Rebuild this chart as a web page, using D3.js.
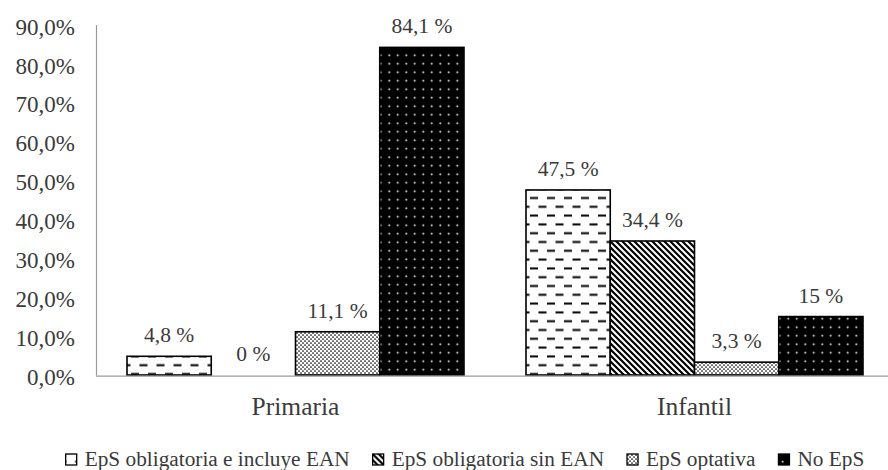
<!DOCTYPE html>
<html>
<head>
<meta charset="utf-8">
<script src="https://cdn.jsdelivr.net/npm/d3@7"></script>
<style>
  body { margin: 0; background: #fff; }
  svg { display: block; }
  text { font-family: "Liberation Serif", "DejaVu Serif", serif; fill: #3a3a3a; }
</style>
</head>
<body>
<svg id="chart" width="888" height="470"></svg>
<script>
// Data
const categories = ["Primaria", "Infantil"];
const seriesNames = [
  "EpS obligatoria e incluye EAN",
  "EpS obligatoria sin EAN",
  "EpS optativa",
  "No EpS"
];
const primariaValues = [4.8, 0, 11.1, 84.1];
const infantilValues = [47.5, 34.4, 3.3, 15];
const yTickValues = [0, 10, 20, 30, 40, 50, 60, 70, 80, 90];

const valuesByCategory = { "Primaria": primariaValues, "Infantil": infantilValues };
const rows = categories.map(c => ({
  category: c,
  bars: seriesNames.map((s, i) => ({ series: s, idx: i, value: valuesByCategory[c][i] }))
}));

const FONT = '"Liberation Serif", "DejaVu Serif", serif';
const svg = d3.select("#chart");
const W = 888, H = 470;
const plot = { left: 96, right: 894, top: 24.4, bottom: 375 };

// Spanish number format: comma as decimal separator
const es = d3.formatLocale({ decimal: ",", thousands: ".", grouping: [3], currency: ["", " €"] });
const tickFmt = v => es.format(".1f")(v) + "%";
const labelFmt = v => (Number.isInteger(v) ? String(v) : es.format(".1f")(v)) + " %";

// Scales
const x0 = d3.scaleBand().domain(categories).range([plot.left, plot.right]).paddingInner(0).paddingOuter(0);
const x1 = d3.scaleBand().domain(seriesNames).range([0, x0.bandwidth()]).paddingInner(0).paddingOuter(0.368);
const y = d3.scaleLinear().domain([0, 90]).range([plot.bottom, plot.top]);

// Fill patterns
const defs = svg.append("defs");

// dashed horizontal
const p0 = defs.append("pattern").attr("id", "pat0").attr("patternUnits", "userSpaceOnUse")
  .attr("width", 17).attr("height", 17.6);
p0.append("rect").attr("width", 17).attr("height", 17.6).attr("fill", "#fff");
p0.append("rect").attr("x", 1).attr("y", 3.4).attr("width", 8).attr("height", 2).attr("fill", "#000");
p0.append("rect").attr("x", 9.5).attr("y", 12.2).attr("width", 8).attr("height", 2).attr("fill", "#000");
p0.append("rect").attr("x", -7.5).attr("y", 12.2).attr("width", 8).attr("height", 2).attr("fill", "#000");

// wide downward diagonal
const p1 = defs.append("pattern").attr("id", "pat1").attr("patternUnits", "userSpaceOnUse")
  .attr("width", 6).attr("height", 6);
p1.append("rect").attr("width", 6).attr("height", 6).attr("fill", "#fff");
p1.append("path").attr("d", "M-1,-1 L7,7 M-3,3 L3,9 M3,-3 L9,3")
  .attr("stroke", "#000").attr("stroke-width", 2.2);

// small dotted grid
const p2 = defs.append("pattern").attr("id", "pat2").attr("patternUnits", "userSpaceOnUse")
  .attr("width", 4).attr("height", 4);
p2.append("rect").attr("width", 4).attr("height", 4).attr("fill", "#fff");
p2.append("circle").attr("cx", 1).attr("cy", 1).attr("r", 0.85).attr("fill", "#000");
p2.append("circle").attr("cx", 3).attr("cy", 3).attr("r", 0.85).attr("fill", "#000");

// black with white dots
const p3 = defs.append("pattern").attr("id", "pat3").attr("patternUnits", "userSpaceOnUse")
  .attr("width", 8.5).attr("height", 8.5);
p3.append("rect").attr("width", 8.5).attr("height", 8.5).attr("fill", "#000");
p3.append("circle").attr("cx", 4.25).attr("cy", 4.25).attr("r", 0.95).attr("fill", "#fff");

// Y axis labels (no tick marks, no grid)
const yAxis = d3.axisLeft(y).tickValues(yTickValues).tickFormat(tickFmt).tickSize(0).tickPadding(21);
const gy = svg.append("g").attr("transform", `translate(${plot.left},0)`).call(yAxis);
gy.attr("font-family", null).attr("font-size", null);
gy.select(".domain").attr("stroke", "#9a9a9a").attr("stroke-width", 1.2);
gy.selectAll(".tick text")
  .attr("dy", "0.42em")
  .style("font-size", "23px")
  .style("font-family", FONT)
  .attr("fill", "#3a3a3a");

// Bars
const groups = svg.append("g").selectAll("g.cat").data(rows).join("g")
  .attr("class", "cat")
  .attr("transform", d => `translate(${x0(d.category)},0)`);

groups.selectAll("rect").data(d => d.bars).join("rect")
  .attr("x", d => x1(d.series))
  .attr("width", x1.bandwidth())
  .attr("y", d => y(d.value))
  .attr("height", d => y(0) - y(d.value))
  .attr("fill", d => `url(#pat${d.idx})`)
  .attr("stroke", "#000")
  .attr("stroke-width", 1.6);

// Baseline
svg.append("line")
  .attr("x1", plot.left).attr("x2", W)
  .attr("y1", y(0) + 1.2).attr("y2", y(0) + 1.2)
  .attr("stroke", "#9a9a9a").attr("stroke-width", 1.2);

// Value labels
groups.selectAll("text.val").data(d => d.bars).join("text")
  .attr("class", "val")
  .attr("x", d => x1(d.series) + x1.bandwidth() / 2)
  .attr("y", d => y(d.value) - 14)
  .attr("text-anchor", "middle")
  .style("font-size", "21.5px")
  .style("font-family", FONT)
  .text(d => labelFmt(d.value));

// Category labels
svg.append("g").selectAll("text").data(categories).join("text")
  .attr("x", d => x0(d) + x0.bandwidth() / 2)
  .attr("y", 415)
  .attr("text-anchor", "middle")
  .style("font-size", "25.5px")
  .style("font-family", FONT)
  .text(d => d);

// Legend
const legend = svg.append("g");
const items = legend.selectAll("g").data(seriesNames).join("g");
items.append("rect")
  .attr("x", 0).attr("y", -12).attr("width", 11).attr("height", 11)
  .attr("fill", (d, i) => `url(#pat${i})`)
  .attr("stroke", "#000").attr("stroke-width", 1.3);
items.append("text")
  .attr("x", 19).attr("y", 0)
  .style("font-size", "21.3px")
  .style("font-family", FONT)
  .text(d => d);

const gap = 23;
let cursor = 0;
items.each(function () {
  const w = 19 + d3.select(this).select("text").node().getComputedTextLength();
  d3.select(this).attr("transform", `translate(${cursor},0)`);
  cursor += w + gap;
});
const totalW = cursor - gap;
legend.attr("transform", `translate(${465 - totalW / 2},466)`);
</script>
</body>
</html>
